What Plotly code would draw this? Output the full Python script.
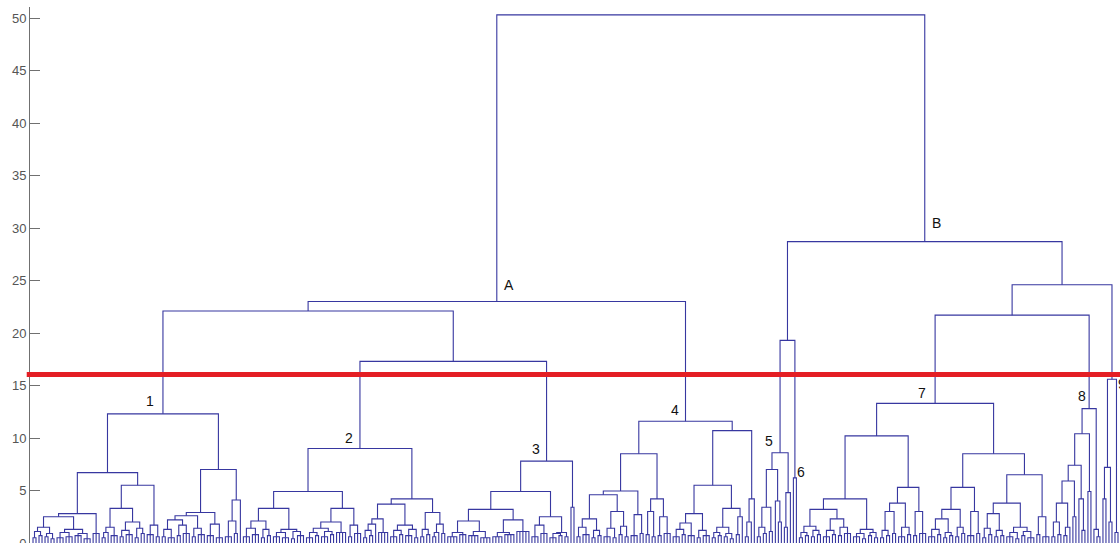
import re
import plotly.graph_objects as go

# ---- dendrogram data (merge heights) ----
# notation: "(" children ")" height ; "." = single leaf ; "k@h" = k leaves merged at height h
cluster_1 = (
    "((((((2@0.5 2@0.7)1.1 (2@0.6 2@0.4)0.9)1.5 ((3@0.5 3@0.6)1.0 (3@0.7 3@0.4)0.9)1.3)2.5 3@0.9)2.8"
    " ((((2@0.5 .)1.0 3@0.7)1.5 ((2@0.6 3@0.8)1.2 (2@0.5 2@0.9)1.4)2.0)3.3 (3@0.8 2@0.6)1.7)5.5)6.7"
    " (((((2@0.6 3@0.5)1.3 (2@0.7 3@0.9)1.7)2.2 (2@0.6 3@0.8)1.4)2.6 (3@0.7 3@0.5)1.8)2.9 ((3@0.6 2@0.9)2.1 .)4.1)7.0)12.3"
)
cluster_2 = (
    "(((((3@0.6 3@0.8)1.4 (2@0.5 2@0.7)1.3)2.1 ((3@0.6 3@0.5)1.0 (2@0.4 3@0.7)1.1)1.3)3.3"
    " ((((3@0.5 2@0.7)1.0 (3@0.6 2@0.8)1.1)1.4 4@1.0)2.0 (2@0.6 3@0.9)1.7)3.3)4.9"
    " (((((2@0.5 2@0.7)1.2 .)1.8 4@1.0)2.3 ((3@0.6 2@0.8)1.2 (3@0.7 2@0.5)1.3)1.7)3.7"
    " ((2@0.6 2@0.8)1.3 ((2@0.6 .)1.0 2@0.9)1.8)2.9)4.2)9.0"
)
cluster_3 = (
    "(((((4@0.6 3@0.8)1.0 (4@0.7 4@0.5)1.1)2.1 ((4@0.6 4@0.8)1.0 5@1.1)2.2)3.2"
    " ((3@0.6 3@0.9)1.7 ((3@0.5 2@0.7)0.9 2@0.6)1.0)2.5)4.9 (. .)3.4)7.8"
)
cluster_4 = (
    "((((((2@0.6 3@0.8)1.5 (2@0.5 2@0.7)1.2)2.3 ((3@0.6 2@0.5)1.4 (2@0.8 2@0.6)1.6)3.0)4.6 (3@0.7 2@0.9)2.7)4.95"
    " ((2@0.8 2@0.6)3.0 (2@0.7 3@0.9)2.5)4.2)8.5"
    " (((((3@0.6 2@0.8)1.3 3@0.7)1.9 (2@0.5 3@0.7)1.2)2.8 (((2@0.5 2@0.7)1.0 (2@0.6 2@0.4)0.9)1.5 (2@0.8 .)2.5)3.3)5.5"
    " ((2@0.6 .)2.0 .)4.2)10.7)11.6"
)
cluster_5 = "((((2@0.6 2@0.9)1.5 2@1.1)3.4 (. (. .)2.0)4.0)7.0 ((. .)1.5 .)4.8)8.6"
cluster_6 = "(. .)6.2"
cluster_7 = (
    "((((((2@0.5 2@0.7)1.0 (2@0.6 2@0.8)1.2)1.6 ((3@0.6 2@0.8)1.2 (2@0.7 3@0.9)1.5)2.3)3.2"
    " ((3@0.6 2@0.4)0.9 (2@0.7 2@0.5)1.0)1.3)4.2"
    " ((((2@0.5 2@0.7)1.2 2@0.9)3.0 (3@0.6 2@0.8)1.5)3.8 (2@0.7 3@0.9)3.0)5.3)10.2"
    " (((((3@0.6 2@0.8)1.3 (2@0.5 2@0.7)1.0)2.3 (2@0.6 2@0.9)1.5)3.2 (3@0.7 2@0.9)3.0)5.3"
    " ((((2@0.5 2@0.8)1.4 (2@0.6 2@0.7)1.2)2.8 ((3@0.6 2@0.4)1.0 (2@0.7 3@0.5)1.1)1.5)3.8 (2@0.8 3@0.6)2.5)6.5)8.5)13.3"
)
cluster_8 = "((((((2@0.6 2@0.8)2.0 (2@0.7 .)1.5)3.8 (. .)2.5)5.9 (. (. .)1.2)4.2)7.4 (. .)4.9)10.4 (. 2@0.6)1.3)12.8"
cluster_9 = "(((. .)4.2 (. .)2.0)7.2 (. .)1.0)15.6"

top_tree = "(((C1 (C2 C3)17.3)22.1 C4)23.0 ((C5 C6)19.3 ((C7 C8)21.7 C9)24.6)28.7)50.3"

cut_height = 16.05

label_text = ["A", "B", "1", "2", "3", "4", "5", "6", "7", "8", "9"]
label_xpaper = [0.4394, 0.8312, 0.1101, 0.2927, 0.4642, 0.5917, 0.6780, 0.7073, 0.8183, 0.9651, 1.0018]
label_y = [24.57, 30.48, 13.52, 10.0, 8.95, 12.67, 9.71, 6.80, 14.29, 14.0, 15.1]

y_ticks = [0, 5, 10, 15, 20, 25, 30, 35, 40, 45, 50]

# ---- build tree ----
clusters = {"C1": cluster_1, "C2": cluster_2, "C3": cluster_3, "C4": cluster_4, "C5": cluster_5,
            "C6": cluster_6, "C7": cluster_7, "C8": cluster_8, "C9": cluster_9}
tree_text = top_tree
for name, sub in clusters.items():
    tree_text = tree_text.replace(name, sub)

TOKEN = re.compile(r"\d+@\d+(?:\.\d+)?|\d+(?:\.\d+)?|[().]")
toks = TOKEN.findall(tree_text)
pos = 0


def parse():
    global pos
    t = toks[pos]
    pos += 1
    if t == ".":
        return ("leaf",)
    if "@" in t:
        k, h = t.split("@")
        return ("bundle", int(k), float(h))
    if t == "(":
        kids = []
        while toks[pos] != ")":
            kids.append(parse())
        pos += 1
        h = float(toks[pos])
        pos += 1
        return ("node", kids, h)
    raise ValueError(t)


root = parse()

leaf_counter = [0]
xs, ys = [], []


def place(node):
    kind = node[0]
    if kind == "leaf":
        x = leaf_counter[0]
        leaf_counter[0] += 1
        return x, 0.0
    if kind == "bundle":
        _, k, h = node
        kids = []
        for _ in range(k):
            kids.append((leaf_counter[0], 0.0))
            leaf_counter[0] += 1
    else:
        _, children, h = node
        kids = [place(c) for c in children]
    (x1, y1), (x2, y2) = kids[0], kids[-1]
    xs.extend([x1, x1, x2, x2, None])
    ys.extend([y1, h, h, y2, None])
    for (xm, ym) in kids[1:-1]:
        xs.extend([xm, xm, None])
        ys.extend([ym, h, None])
    return (x1 + x2) / 2, h


place(root)
n_leaves = leaf_counter[0]

fig = go.Figure(go.Scatter(x=xs, y=ys, mode="lines",
                           line=dict(color="rgb(55,55,160)", width=1.1),
                           hoverinfo="skip", showlegend=False))

fig.update_layout(width=1120, height=543, margin=dict(l=30, r=0, t=7, b=0),
                  paper_bgcolor="white", plot_bgcolor="white", showlegend=False)
fig.update_xaxes(range=[-1.0, n_leaves - 0.33], visible=False, automargin=False)
fig.update_yaxes(range=[0, 51.05], tickvals=y_ticks, ticks="inside", ticklen=10,
                 tickcolor="#707070", showline=True, linecolor="#707070", linewidth=1,
                 showgrid=False, zeroline=False, ticklabeloverflow="allow", automargin=False,
                 tickfont=dict(family="Liberation Sans, Arial, sans-serif", size=13, color="#555555"))

fig.add_shape(type="line", xref="paper", yref="y", x0=-0.003, x1=1, y0=cut_height, y1=cut_height,
              line=dict(color="rgb(228,30,36)", width=5), layer="above")

for t, xp, yv in zip(label_text, label_xpaper, label_y):
    fig.add_annotation(x=xp, y=yv, xref="paper", yref="y", text=t, showarrow=False,
                       xanchor="center", yanchor="middle",
                       font=dict(family="Liberation Sans, Arial, sans-serif", size=14, color="#111111"))

fig.write_html("out.html")
